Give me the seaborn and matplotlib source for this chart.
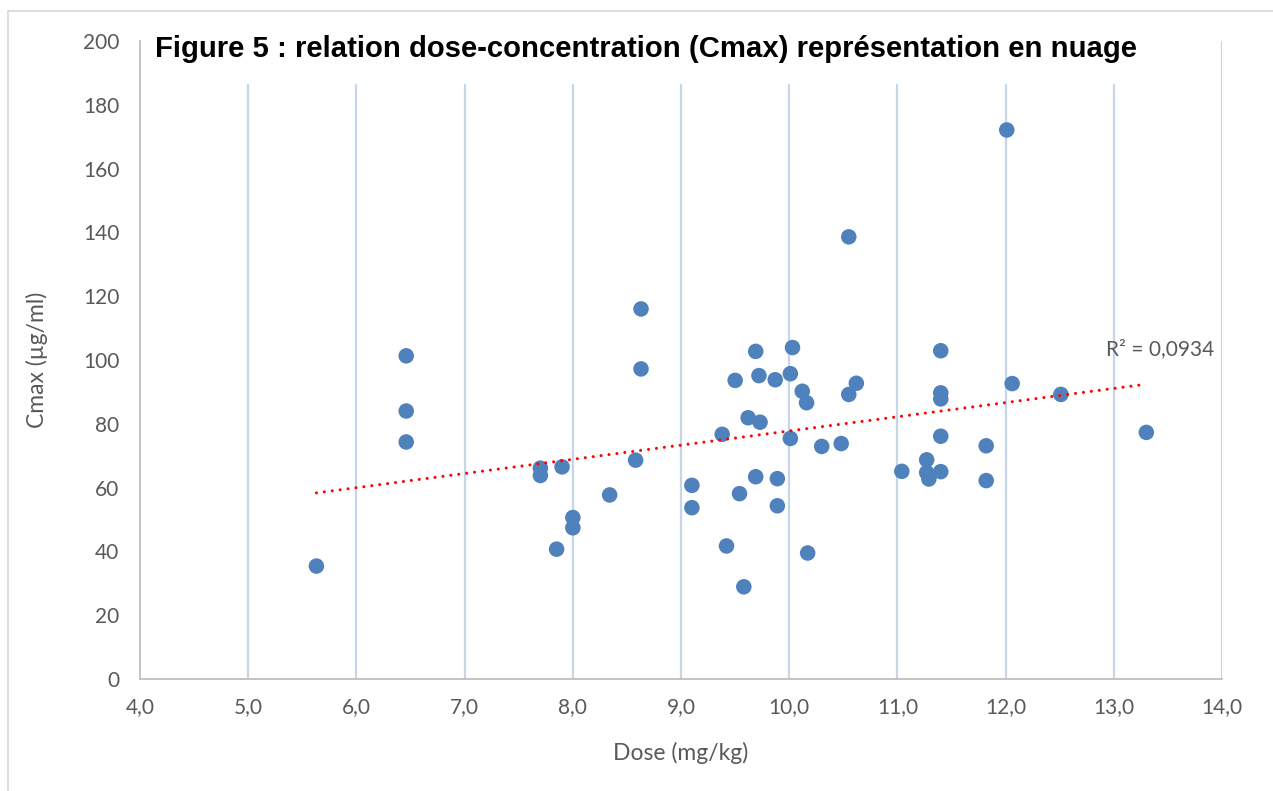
import matplotlib
matplotlib.use("Agg")
import matplotlib.pyplot as plt
import seaborn as sns
import pandas as pd
from matplotlib.ticker import FuncFormatter, MultipleLocator
from matplotlib.lines import Line2D

# dose (mg/kg) and Cmax (ug/ml)
dose = [5.63, 6.46, 6.46, 6.46, 7.70, 7.70, 7.90, 7.85, 8.00, 8.00,
        8.34, 8.58, 8.63, 8.63, 9.69, 10.03, 9.50, 9.72, 9.87, 10.01,
        10.12, 10.16, 10.62, 10.55, 9.62, 9.73, 9.38, 10.01, 10.30, 10.48,
        9.10, 9.10, 9.54, 9.69, 9.89, 9.89, 9.42, 10.17, 9.58, 10.55,
        12.01, 11.40, 11.40, 11.40, 11.40, 11.40, 11.04, 11.27, 11.27, 11.29,
        11.82, 11.82, 12.06, 12.51, 13.30]
cmax = [35.4, 101.3, 84.0, 74.3, 66.1, 63.8, 66.5, 40.7, 50.6, 47.4,
        57.7, 68.6, 116.0, 97.2, 102.7, 103.9, 93.6, 95.1, 93.8, 95.7,
        90.2, 86.6, 92.7, 89.2, 81.9, 80.5, 76.7, 75.4, 72.9, 73.8,
        60.7, 53.7, 58.1, 63.4, 62.8, 54.3, 41.7, 39.5, 28.9, 138.6,
        172.1, 102.9, 89.7, 87.8, 76.1, 65.0, 65.1, 68.7, 64.7, 62.7,
        73.1, 62.2, 92.6, 89.2, 77.3]
r2_label = "R² = 0,0934"
title = "Figure 5 : relation dose-concentration (Cmax) représentation en nuage"

df = pd.DataFrame({"Dose": dose, "Cmax": cmax})

sns.set_theme(style="white")
plt.rcParams['font.family'] = ['Lato', 'DejaVu Sans']
grey = '#595959'

fig = plt.figure(figsize=(12.73, 7.91), dpi=100)
ax = fig.add_axes([0.110, 0.1416, 0.850, 0.8066])

# vertical gridlines only; the title box hides their top part, except at 14
for xv in range(5, 15):
    top = 1.0 if xv == 14 else 0.931
    ax.axvline(xv, ymin=0, ymax=top, color='#c6d5ea', lw=1.6, zorder=0)

sns.scatterplot(data=df, x="Dose", y="Cmax", ax=ax, color='#4f81bd',
                s=125, edgecolor='none', zorder=3, legend=False)
sns.regplot(data=df, x="Dose", y="Cmax", ax=ax, scatter=False, ci=None,
            truncate=True,
            line_kws=dict(color='#ff0000', lw=2.2, linestyle=(0, (0.01, 2.6)),
                          dash_capstyle='round', zorder=4))

ax.set_xlim(4, 14)
ax.set_ylim(0, 200)
ax.xaxis.set_major_locator(MultipleLocator(1))
ax.yaxis.set_major_locator(MultipleLocator(20))
ax.xaxis.set_major_formatter(FuncFormatter(lambda v, p: f"{v:.1f}".replace('.', ',')))
ax.yaxis.set_major_formatter(FuncFormatter(lambda v, p: f"{v:.0f}"))
ax.tick_params(axis='both', length=0, labelsize=15, labelcolor=grey)
ax.tick_params(axis='x', pad=13)
ax.tick_params(axis='y', pad=15)

for side in ['top', 'right']:
    ax.spines[side].set_visible(False)
for side in ['left', 'bottom']:
    ax.spines[side].set_color('#bfbfbf')
    ax.spines[side].set_linewidth(1.3)

ax.set_xlabel("Dose (mg/kg)", fontsize=16.5, color=grey, labelpad=18)
ax.set_ylabel("Cmax (µg/ml)", fontsize=16.5, color=grey, labelpad=25)

ax.text(12.93, 103.5, r2_label, fontsize=15, color=grey, ha='left', va='center')

fig.text(0.122, 1 - 49 / 791, title, fontsize=21.1, fontweight='bold',
         family=['Liberation Sans', 'DejaVu Sans'], color='black',
         ha='left', va='center')

# light frame of the chart area (only top and left edges are inside the crop)
fig.add_artist(Line2D([8 / 1273, 8 / 1273], [0, 1 - 11 / 791],
                      transform=fig.transFigure, color='#d9d9d9', lw=1.2))
fig.add_artist(Line2D([8 / 1273, 1], [1 - 11 / 791, 1 - 11 / 791],
                      transform=fig.transFigure, color='#d9d9d9', lw=1.2))

fig.savefig("out.png", dpi=100)
